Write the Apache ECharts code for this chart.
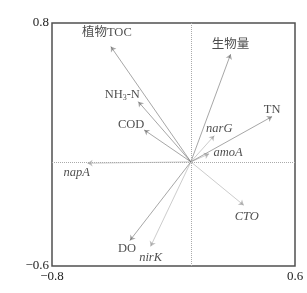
<!DOCTYPE html>
<html><head><meta charset="utf-8">
<script src="https://cdn.jsdelivr.net/npm/echarts@6/dist/echarts.min.js"></script>
<style>html,body{margin:0;padding:0;background:#fff}#c{width:307px;height:293px}</style>
</head><body><div id="c"></div>
<script>
const names = ['植物TOC','NH3-N','COD','生物量','TN','narG','amoA','napA','DO','nirK','CTO'];
const xs = [-0.461, -0.303, -0.269, 0.229, 0.468, 0.135, 0.105, -0.595, -0.351, -0.232, 0.305];
const ys = [0.664, 0.347, 0.184, 0.620, 0.261, 0.151, 0.046, -0.008, -0.453, -0.487, -0.250];
const isGene = [false,false,false,false,false,true,true,true,false,true,true];
const labelOffsets = [[-4,-14],[-16,-7],[-13,-5],[0,-10],[0,-7],[5,-7],[19,-1],[-11,9],[-3,8],[0,11],[3,11]];
const xTickLabels = ['−0.8','0.6'];
const yTickLabels = ['−0.6','0.8'];

const font = '"Liberation Serif","Times New Roman","Noto Sans CJK SC",serif';
const chart = echarts.init(document.getElementById('c'));
const lineData = names.map((n,i)=>({
  coords:[[0,0],[xs[i],ys[i]]],
  lineStyle:{color: isGene[i] ? '#808080' : '#505050', width: isGene[i] ? 0.8 : 1}
}));
const labelData = names.map((n,i)=>({
  value:[xs[i],ys[i]],
  label:{
    offset: labelOffsets[i],
    formatter: n === 'NH3-N' ? 'NH{sub|3}-N' : n,
    fontStyle: isGene[i] ? 'italic' : 'normal'
  }
}));
chart.setOption({
  animation:false,
  grid:{left:52, top:23, right:12, bottom:27, show:true, borderColor:'#505050', borderWidth:1.5, backgroundColor:'transparent'},
  xAxis:{type:'value', min:-0.8, max:0.6, interval:0.2,
    axisLine:{show:false}, axisTick:{show:false}, splitLine:{show:false},
    axisLabel:{color:'#222', fontFamily:font, fontSize:13, margin:4,
      formatter:v => Math.abs(v+0.8)<1e-6 ? xTickLabels[0] : (Math.abs(v-0.6)<1e-6 ? xTickLabels[1] : '')}},
  yAxis:{type:'value', min:-0.6, max:0.8, interval:0.2,
    axisLine:{show:false}, axisTick:{show:false}, splitLine:{show:false},
    axisLabel:{color:'#222', fontFamily:font, fontSize:13, margin:3,
      formatter:v => Math.abs(v+0.6)<1e-6 ? yTickLabels[0] : (Math.abs(v-0.8)<1e-6 ? yTickLabels[1] : '')}},
  series:[
    {type:'line', data:[], silent:true,
      markLine:{silent:true, symbol:'none', label:{show:false},
        lineStyle:{color:'#aaaaaa', type:'dotted', width:1},
        data:[{xAxis:0},{yAxis:0}]}},
    {type:'lines', coordinateSystem:'cartesian2d', silent:true,
      symbol:['none','arrow'], symbolSize:5, data:lineData},
    {type:'scatter', symbolSize:0, silent:true, data:labelData,
      label:{show:true, position:'inside', color:'#222', fontFamily:font, fontSize:12.5,
        rich:{sub:{fontSize:8, verticalAlign:'bottom', padding:[6,0,0,0], fontFamily:font, color:'#222'}}}}
  ]
});
</script></body></html>
